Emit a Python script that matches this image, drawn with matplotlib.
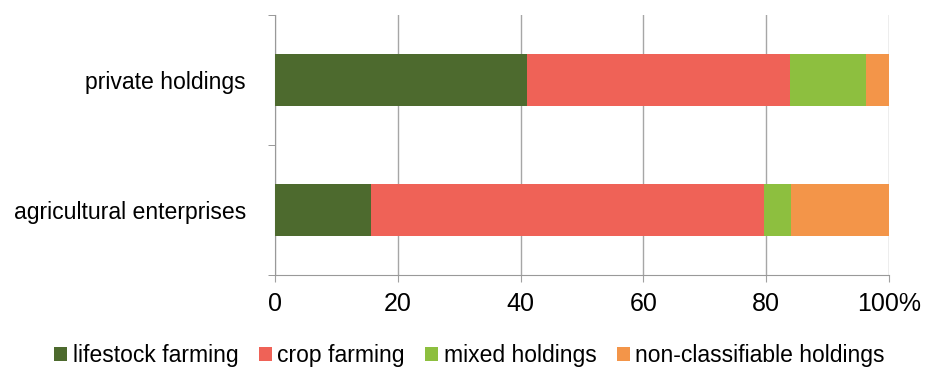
import matplotlib
matplotlib.use('Agg')
import matplotlib.pyplot as plt
import numpy as np

plt.rcParams['font.family'] = ['Liberation Sans', 'DejaVu Sans']

categories = ['agricultural enterprises', 'private holdings']
series = ['lifestock farming', 'crop farming', 'mixed holdings', 'non-classifiable holdings']
lifestock = [15.6, 41.1]
crop = [64.1, 42.8]
mixed = [4.4, 12.3]
nonclass = [15.9, 3.8]
colors = ['#4d6a2e', '#ef6257', '#8dbf3f', '#f39549']
xticks = [0, 20, 40, 60, 80, 100]
xticklabels = ['0', '20', '40', '60', '80', '100%']

fig = plt.figure(figsize=(9.3, 3.67), dpi=100)
ax = fig.add_axes([0.2957, 0.2507, 0.956 - 0.2957, 0.959 - 0.2507])

y = np.arange(len(categories))
left = np.zeros(len(categories))
for vals, name, col in zip([lifestock, crop, mixed, nonclass], series, colors):
    ax.barh(y, vals, left=left, height=0.4, color=col, label=name, zorder=3)
    left += np.array(vals)

ax.set_xlim(0, 100)
ax.set_ylim(-0.5, 1.5)
ax.set_xticks(xticks)
ax.set_xticklabels(xticklabels, fontsize=18)
ax.set_yticks(y)
ax.set_yticklabels(categories, fontsize=16.6)
ax.tick_params(axis='y', which='major', length=0, pad=21)
ax.set_yticks([-0.5, 0.5, 1.5], minor=True)
ax.tick_params(axis='y', which='minor', length=5, color='#888888')
ax.tick_params(axis='x', length=5, color='#a0a0a0', pad=7)
ax.grid(axis='x', color='#a6a6a6', linewidth=1, zorder=0)
for s in ['top', 'right']:
    ax.spines[s].set_visible(False)
for s in ['left', 'bottom']:
    ax.spines[s].set_color('#999999')

fig.legend(loc='center', bbox_to_anchor=(0.505, 0.03), ncol=4, frameon=False,
           fontsize=16.5, handlelength=0.55, handleheight=0.55, handletextpad=0.25,
           columnspacing=0.9)

fig.savefig('out.png', dpi=100)
